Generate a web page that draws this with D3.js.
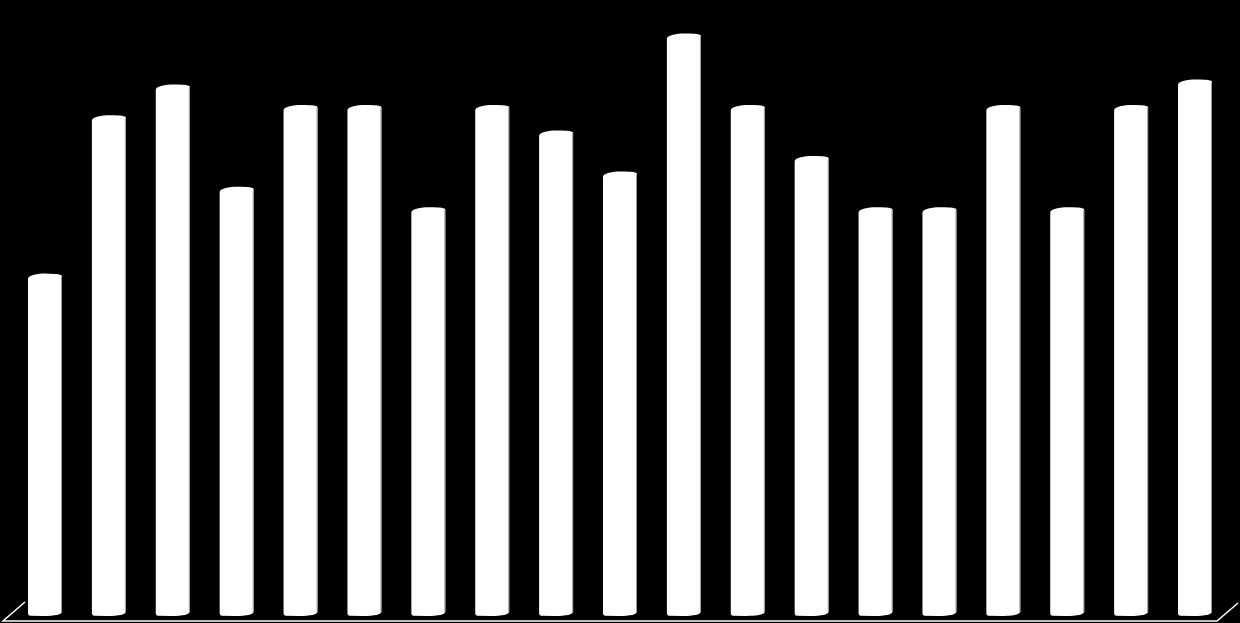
<!DOCTYPE html>
<html>
<head>
<meta charset="utf-8">
<script src="https://cdn.jsdelivr.net/npm/d3@7"></script>
<style>
  html, body { margin: 0; padding: 0; background: #000; }
  svg { display: block; }
</style>
</head>
<body>
<svg width="1240" height="623"></svg>
<script>
// data
// ----------------------------------
var categories = ['1', '2', '3', '4', '5', '6', '7', '8', '9', '10',
                  '11', '12', '13', '14', '15', '16', '17', '18', '19'];
var values = [6.7, 9.8, 10.4, 8.4, 10, 10, 8, 10, 9.5, 8.7,
              11.4, 10, 9, 8, 8, 10, 8, 10, 10.5];

var svg = d3.select('svg');
var width = 1240, height = 623;
var baseY = 616;

svg.append('rect')
    .attr('width', width)
    .attr('height', height)
    .style('fill', '#000');

// scales
// ----------------------------------
var x = d3.scaleBand()
    .domain(categories)
    .range([28, 1212])
    .paddingInner(0.468)
    .paddingOuter(0);

var y = d3.scaleLinear()
    .domain([0, 12])
    .range([baseY, baseY - 12 * 51.1]);

// floor (3d edge)
// ----------------------------------
var floor = svg.append('g').classed('floor', true);
floor.append('path')
    .attr('d', d3.line()([[25, 602], [3, 621], [1217, 621], [1238, 603]]))
    .style('fill', 'none')
    .style('stroke', '#fff')
    .style('stroke-width', 1.5);

// cylinders
// ----------------------------------
function cylinder(d, i) {
    var x0 = x(categories[i]);
    var w = x.bandwidth();
    var x1 = x0 + w;
    var t = y(d);
    var p = d3.path();
    p.moveTo(x0, t + 5);
    p.bezierCurveTo(x0 + 1, t + 1.5, x0 + w * 0.3, t - 0.2, x0 + w * 0.57, t);
    p.bezierCurveTo(x0 + w * 0.85, t + 0.1, x1, t + 0.6, x1, t + 2.5);
    p.lineTo(x1, baseY - 4.5);
    p.bezierCurveTo(x1, baseY - 1.5, x0 + w * 0.8, baseY, x0 + w * 0.45, baseY);
    p.lineTo(x0 + 2, baseY - 0.3);
    p.quadraticCurveTo(x0, baseY - 0.8, x0, baseY - 2.5);
    p.closePath();
    return p.toString();
}

var bars = svg.append('g').classed('bars', true);

bars.selectAll('.bar')
    .data(values)
    .enter()
    .append('path')
    .classed('bar', true)
    .attr('d', cylinder)
    .style('fill', '#fff');

// thin shaded right edge
bars.selectAll('.edge')
    .data(values)
    .enter()
    .append('line')
    .classed('edge', true)
    .attr('x1', (d, i) => x(categories[i]) + x.bandwidth() - 0.5)
    .attr('x2', (d, i) => x(categories[i]) + x.bandwidth() - 0.5)
    .attr('y1', d => y(d) + 3)
    .attr('y2', baseY - 4)
    .style('stroke', '#9a9a9a')
    .style('stroke-width', 1);
</script>
</body>
</html>
